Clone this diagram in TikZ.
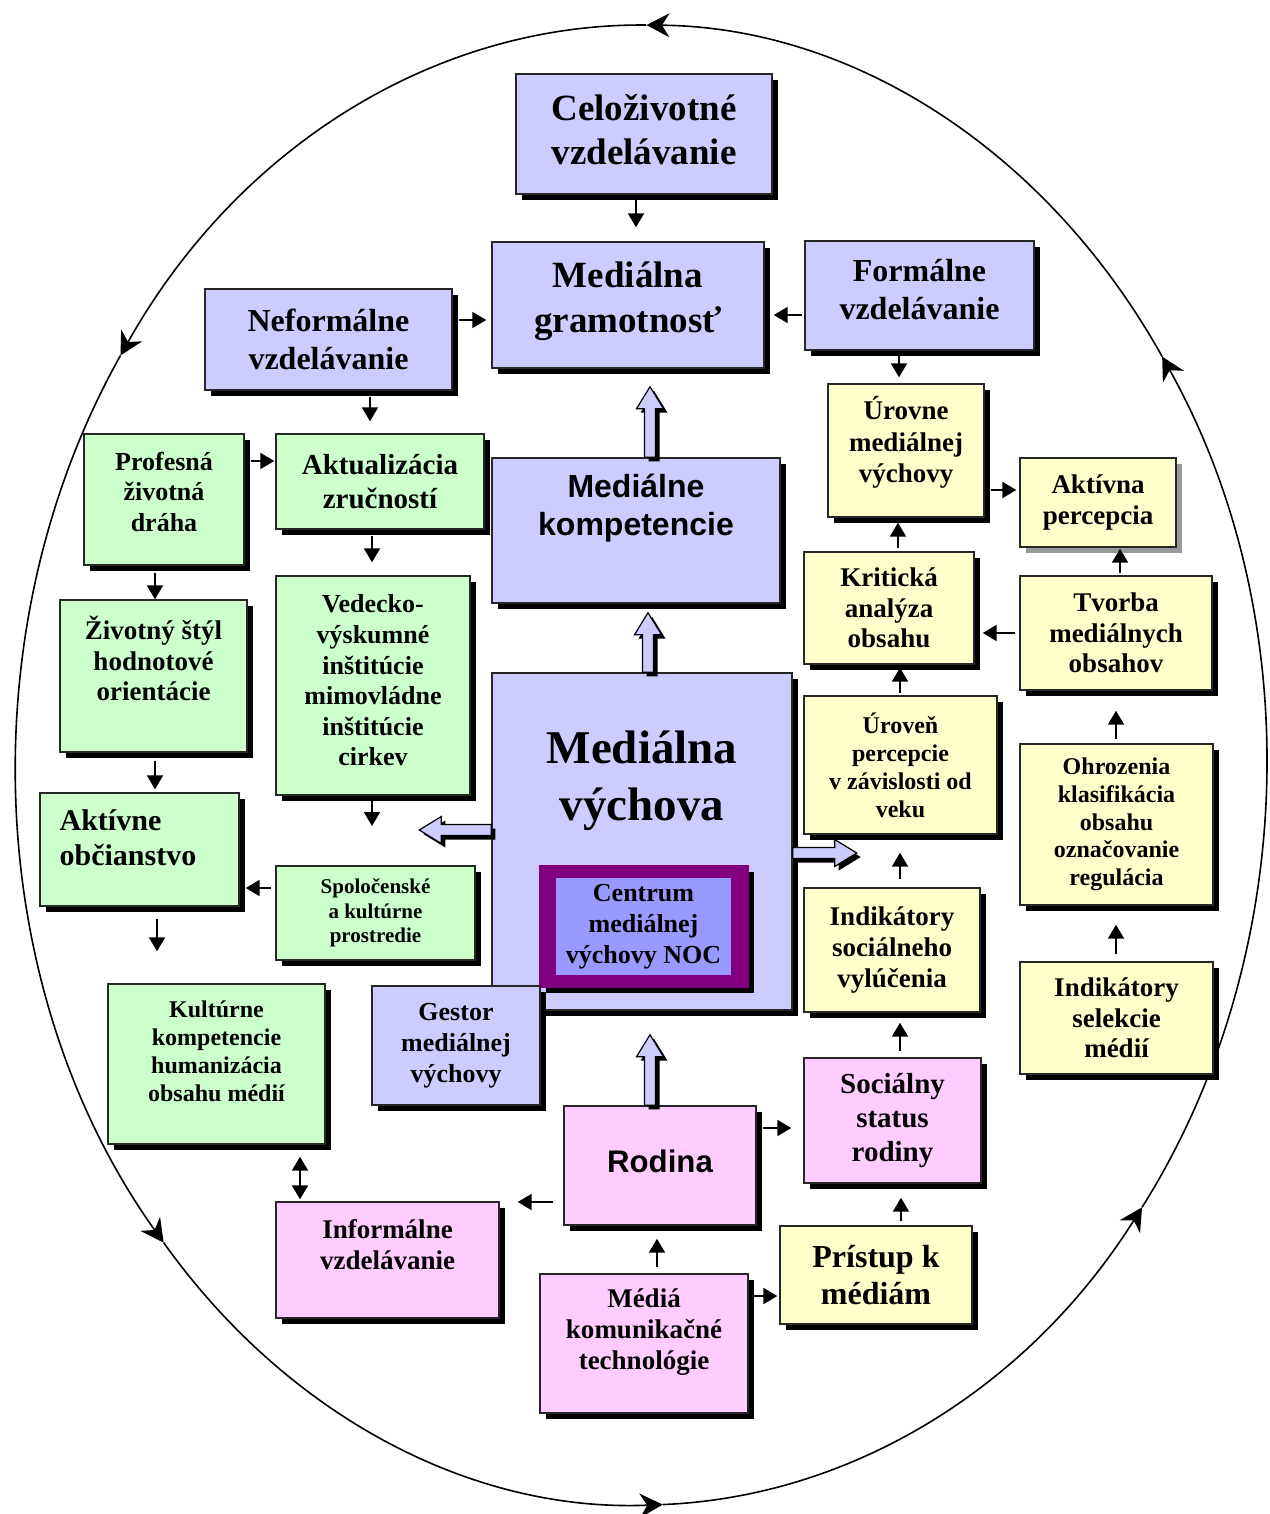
\documentclass[tikz,border=0pt]{standalone}
\usepackage{fontspec}
\setmainfont{Liberation Serif}
\setsansfont{Liberation Sans}
\usetikzlibrary{arrows.meta,calc,shadows}

\definecolor{mvblue}{HTML}{CCCCFF}
\definecolor{mvgreen}{HTML}{CCFFCC}
\definecolor{mvyellow}{HTML}{FFFFCC}
\definecolor{mvpink}{HTML}{FFCCFF}
\definecolor{mvpurple}{HTML}{800080}
\definecolor{mvviolet}{HTML}{9999FF}

\newcommand{\fsz}[2]{\fontsize{#1pt}{#2pt}\selectfont\bfseries}

% fat block arrow: #1 base, #2 tip, #3 offset, #4 style
\newcommand{\fatpart}[4]{%
  \path[#4] let \p1=#1, \p2=#2, \n1={atan2(\y2-(\y1),\x2-(\x1))}, \n2={veclen(\x2-(\x1),\y2-(\y1))}, \n3={\n2-11pt} in
    ($(\p1)+#3+(\n1+90:2.75pt)$) -- ($(\p1)+#3+(\n1:\n3)+(\n1+90:2.75pt)$)
    -- ($(\p1)+#3+(\n1:\n3)+(\n1+90:6.75pt)$) -- ($(\p1)+#3+(\n1:\n2)$)
    -- ($(\p1)+#3+(\n1:\n3)+(\n1-90:6.75pt)$) -- ($(\p1)+#3+(\n1:\n3)+(\n1-90:2.75pt)$)
    -- ($(\p1)+#3+(\n1-90:2.75pt)$) -- cycle;}
\newcommand{\fatarrow}[2]{\fatpart{#1}{#2}{(2pt,-2pt)}{fill=black}\fatpart{#1}{#2}{(0pt,0pt)}{fat}}

\tikzset{
  basebox/.style={draw=black!85, line width=0.7pt, inner sep=1pt, align=center, font=\fsz{13.5}{15.5}},
  box/.style={basebox, fill=#1, drop shadow={shadow xshift=3pt, shadow yshift=-3pt, fill=black, opacity=1}},
  greybox/.style={basebox, fill=#1, drop shadow={shadow xshift=3pt, shadow yshift=-3pt, fill=black!40, opacity=1}},
  lbl/.style={align=center, inner sep=0pt},
  arr/.style={-{Triangle[length=7pt,width=8pt]}, line width=1pt},
  ring/.style={line width=0.8pt, -{Stealth[length=11.5pt,width=12pt]}},
  fat/.style={fill=mvblue, draw=black, line width=0.6pt},
}

\begin{document}
\begin{tikzpicture}[x=0.5pt,y=-0.5pt]
\useasboundingbox (0,0) rectangle (1269,1514);

% outer cycle
\coordinate (ctr) at (641,765);
\foreach \a/\b in {36.7/-33.5,-33.5/-89.5,-89.5/-146.4,-146.4/-220.2,-220.2/-272,-272/-323.3}
  \draw[ring] (ctr) ++(\a:625 and 740) arc[start angle=\a, end angle=\b, x radius=625, y radius=740];

% blue boxes
\node[box=mvblue, minimum width=128pt, minimum height=60pt, label={[lbl, font=\fsz{18.5}{22}, yshift=2pt]center:{Celoživotné\\vzdelávanie}}] (celo) at (644,134) {};
\node[box=mvblue, minimum width=136pt, minimum height=63pt, label={[lbl, font=\fsz{18.5}{22.5}, yshift=1.75pt]center:{Mediálna\\gramotnosť}}] (gram) at (628,305) {};
\node[box=mvblue, minimum width=114.5pt, minimum height=54.5pt, label={[lbl, font=\fsz{16}{19}, yshift=3pt]center:{Formálne\\vzdelávanie}}] (form) at (919.5,295.5) {};
\node[box=mvblue, minimum width=123.5pt, minimum height=50.5pt, font=\fsz{16}{19}] (neform) at (328.5,339.5) {Neformálne\\vzdelávanie};
\node[box=mvblue, minimum width=144pt, minimum height=72.5pt, label={[lbl, font=\sffamily\fsz{16}{19}, yshift=11pt]center:{Mediálne\\kompetencie}}] (komp) at (636,530.5) {};
\node[box=mvblue, minimum width=150pt, minimum height=168.5pt, label={[lbl, font=\fsz{23.5}{28.5}, yshift=30.5pt]center:{Mediálna\\výchova}}] (mv) at (642,841.5) {};
\node[box=mvpurple, draw=mvpurple, minimum width=104pt, minimum height=60.5pt] (cnoc) at (644,926.5) {};
\node[fill=mvviolet, align=center, minimum width=87.5pt, minimum height=48.5pt, inner sep=1pt, font=\fsz{13}{15.5}] (cin) at (643.5,926.5) {Centrum\\mediálnej\\výchovy NOC};
\node[box=mvblue, minimum width=84pt, minimum height=59.5pt, font=\fsz{13}{15.5}] (gest) at (456,1045.5) {Gestor\\mediálnej\\výchovy};

% green boxes
\node[box=mvgreen, minimum width=80pt, minimum height=65.5pt, label={[lbl, font=\fsz{13}{15.25}, yshift=4pt]center:{Profesná\\životná\\dráha}}] (prof) at (164,499.5) {};
\node[box=mvgreen, minimum width=104pt, minimum height=47.5pt, font=\fsz{14.5}{17}] (aktu) at (380,481.5) {Aktualizácia\\zručností};
\node[box=mvgreen, minimum width=93.5pt, minimum height=76pt, label={[lbl, font=\fsz{13.5}{15.25}, yshift=8.75pt]center:{Životný štýl\\hodnotové\\orientácie}}] (ziv) at (153.5,676) {};
\node[box=mvgreen, minimum width=97pt, minimum height=109.5pt, label={[lbl, font=\fsz{13}{15.3}, yshift=2.5pt]center:{Vedecko-\\výskumné\\inštitúcie\\mimovládne\\inštitúcie\\cirkev}}] (ved) at (373,685.5) {};
\node[box=mvgreen, minimum width=99.5pt, minimum height=56.5pt, label={[lbl, align=left, font=\fsz{15}{17.5}, xshift=-5.75pt, yshift=5.75pt]center:{Aktívne\\občianstvo}}] (aob) at (139.5,849.5) {};
\node[box=mvgreen, minimum width=99.5pt, minimum height=47pt, font=\fsz{10.5}{12.25}] (spol) at (375.5,913) {Spoločenské\\a kultúrne\\prostredie};
\node[box=mvgreen, minimum width=108.5pt, minimum height=80pt, label={[lbl, font=\fsz{12}{14}, yshift=6.5pt]center:{Kultúrne\\kompetencie\\humanizácia\\obsahu médií}}] (kult) at (216.5,1064) {};

% pink boxes
\node[box=mvpink, minimum width=111.5pt, minimum height=58pt, label={[lbl, font=\fsz{13.5}{15.5}, yshift=7.5pt]center:{Informálne\\vzdelávanie}}] (inf) at (387.5,1260) {};
\node[box=mvpink, minimum width=96pt, minimum height=59.5pt, label={[lbl, font=\sffamily\fsz{15.6}{18}, yshift=2pt]center:{Rodina}}] (rod) at (660,1165.5) {};
\node[box=mvpink, minimum width=104pt, minimum height=69.5pt, label={[lbl, font=\fsz{13.5}{15.5}, yshift=5.75pt]center:{Médiá\\komunikačné\\technológie}}] (med) at (644,1343.5) {};
\node[box=mvpink, minimum width=88.5pt, minimum height=62.5pt, font=\fsz{14.5}{17}] (soc) at (892.5,1120.5) {Sociálny\\status\\rodiny};

% yellow boxes
\node[box=mvyellow, minimum width=96pt, minimum height=49pt, font=\fsz{16}{18.5}] (pris) at (876,1275) {Prístup k\\médiám};
\node[box=mvyellow, minimum width=78pt, minimum height=66.5pt, label={[lbl, font=\fsz{13.5}{15.75}, yshift=4pt]center:{Úrovne\\mediálnej\\výchovy}}] (urovne) at (906,450.5) {};
\node[greybox=mvyellow, minimum width=78pt, minimum height=44.5pt] (aper) at (1098,502.5) {Aktívna\\percepcia};
\node[box=mvyellow, minimum width=85pt, minimum height=56pt, font=\fsz{13.5}{15.25}] (krit) at (889,608) {Kritická\\analýza\\obsahu};
\node[box=mvyellow, minimum width=96pt, minimum height=57pt, font=\fsz{13.5}{15.25}] (tvor) at (1116,633) {Tvorba\\mediálnych\\obsahov};
\node[box=mvyellow, minimum width=96.5pt, minimum height=69pt, font=\fsz{12}{14}] (urperc) at (900.5,765) {Úroveň\\percepcie\\v závislosti od\\veku};
\node[box=mvyellow, minimum width=96.5pt, minimum height=80.5pt, font=\fsz{12}{13.85}] (ohr) at (1116.5,824.5) {Ohrozenia\\klasifikácia\\obsahu\\označovanie\\regulácia};
\node[box=mvyellow, minimum width=88pt, minimum height=62pt] (indsoc) at (892,950) {Indikátory\\sociálneho\\vylúčenia};
\node[box=mvyellow, minimum width=96.5pt, minimum height=56pt, font=\fsz{13.5}{15.25}] (indsel) at (1116.5,1018) {Indikátory\\selekcie\\médií};

% thin arrows
\draw[arr, shorten <=2pt, shorten >=7pt] ($(celo.south)+(-8,0)$) -- ($(gram.north)+(8,0)$);
\draw[arr, shorten <=3pt, shorten >=2.5pt] ($(neform.east)+(0,-19.5)$) -- ($(gram.west)+(0,15)$);
\draw[arr, shorten <=1pt, shorten >=4.5pt] ($(form.west)+(0,19.5)$) -- ($(gram.east)+(0,10)$);
\draw[arr, shorten <=1pt, shorten >=3pt] ($(form.south)+(-20.5,0)$) -- ($(urovne.north)+(-7,0)$);
\draw[arr, shorten <=3pt, shorten >=6pt] ($(neform.south)+(41.5,0)$) -- ($(aktu.north)+(-10,0)$);
\draw[arr, shorten <=3pt, shorten >=0.5pt] ($(prof.east)+(0,-38.5)$) -- ($(aktu.west)+(0,-20.5)$);
\draw[arr, shorten <=3pt, shorten >=6.5pt] ($(aktu.south)+(-8,0)$) -- ($(ved.north)+(-1,0)$);
\draw[arr, shorten <=3.5pt] ($(prof.south)+(-9,0)$) -- ($(ziv.north)+(1.5,0)$);
\draw[arr, shorten <=4pt, shorten >=1.5pt] ($(ziv.south)+(1.5,0)$) -- ($(aob.north)+(15.5,0)$);
\coordinate (vedend) at (372,826);
\draw[arr, shorten <=2.5pt] ($(ved.south)+(-1,0)$) -- (vedend);
\draw[arr, shorten <=2pt, shorten >=3pt] ($(spol.west)+(0,-25)$) -- ($(aob.east)+(0,38.5)$);
\draw[arr, shorten <=6pt, shorten >=16pt] ($(aob.south)+(17.5,0)$) -- ($(kult.north)+(-59.5,0)$);
\draw[arr, {Triangle[length=7pt,width=8pt]}-{Triangle[length=7pt,width=8pt]}, shorten <=6pt, shorten >=1pt] ($(kult.south)+(83.5,0)$) -- ($(inf.north)+(-87.5,0)$);
\draw[arr, shorten <=5pt, shorten >=9pt] ($(rod.west)+(0,36.5)$) -- ($(inf.east)+(0,-58)$);
\draw[arr, shorten <=3pt, shorten >=6.5pt] ($(med.north)+(13,0)$) -- ($(rod.south)+(-3,0)$);
\draw[arr, shorten <=2pt, shorten >=1pt] ($(med.east)+(0,-47.5)$) -- ($(pris.west)+(0,21)$);
\draw[arr, shorten <=3pt, shorten >=6pt] ($(rod.east)+(0,-37.5)$) -- ($(soc.west)+(0,7.5)$);
\draw[arr, shorten <=2pt, shorten >=7pt] ($(pris.north)+(25,0)$) -- ($(soc.south)+(8.5,0)$);
\draw[arr, shorten <=3pt, shorten >=5pt] ($(soc.north)+(7.5,0)$) -- ($(indsoc.south)+(8,0)$);
\draw[arr, shorten <=4pt, shorten >=9pt] ($(indsoc.north)+(8,0)$) -- ($(urperc.south)+(-0.5,0)$);
\draw[arr, shorten <=1pt, shorten >=1.5pt] ($(urperc.north)+(-0.5,0)$) -- ($(krit.south)+(11,0)$);
\draw[arr, shorten <=1.5pt, shorten >=2.5pt] ($(krit.north)+(9,0)$) -- ($(urovne.south)+(-8,0)$);
\draw[arr, shorten <=3pt, shorten >=1.5pt] ($(urovne.east)+(0,39.5)$) -- ($(aper.west)+(0,-12.5)$);
\draw[arr, shorten <=1pt, shorten >=0.5pt] ($(tvor.north)+(4,0)$) -- ($(aper.south)+(22,0)$);
\draw[arr, shorten <=2pt, shorten >=4pt] (tvor.west) -- ($(krit.east)+(0,25)$);
\draw[arr, shorten <=2pt, shorten >=10pt] ($(ohr.north)+(-0.5,0)$) -- (tvor.south);
\draw[arr, shorten <=3.5pt, shorten >=9.5pt] ($(indsel.north)+(-0.5,0)$) -- ($(ohr.south)+(-0.5,0)$);

% block arrows
\fatarrow{($(komp.north)+(14,0)$)}{($(gram.south)+(22,18)$)}
\fatarrow{($(mv.north)+(6,0)$)}{($(komp.south)+(12,9)$)}
\fatarrow{($(rod.north)+(-10,0)$)}{($(mv.south)+(8,24)$)}
\coordinate (lefttip) at ($(mv.west)+(-72,-11.5)$);
\coordinate (righttip) at ($(mv.east)+(64,11.5)$);
\fatarrow{($(mv.west)+(0,-11.5)$)}{(lefttip)}
\fatarrow{($(mv.east)+(0,11.5)$)}{(righttip)}
\end{tikzpicture}
\end{document}
